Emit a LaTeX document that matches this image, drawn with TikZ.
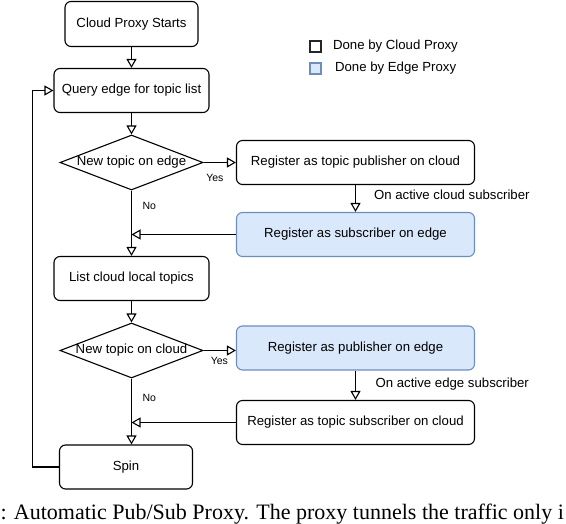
\documentclass[tikz,border=0pt]{standalone}
\usepackage{fontspec}
\setmainfont{Liberation Sans}
\newfontfamily\capfont{Liberation Serif}
\usepackage{xcolor}
\usepackage{tikz}
\usetikzlibrary{arrows.meta,positioning,shapes.geometric}
\definecolor{edgefill}{HTML}{DAE8FC}
\definecolor{edgeline}{HTML}{6C8EBF}
\tikzset{
  proc/.style={draw=black,fill=white,rounded corners=6pt,align=center,
               inner sep=2pt,font=\fontsize{13.2}{15}\selectfont,
               minimum width=155pt,minimum height=44pt},
  regc/.style={proc,minimum width=238pt},
  rege/.style={regc,draw=edgeline,fill=edgefill},
  dec/.style={diamond,draw=black,fill=white,inner sep=0pt,
              font=\fontsize{13.2}{15}\selectfont,
              minimum width=143pt,minimum height=55pt},
  lbl/.style={font=\fontsize{13.2}{15}\selectfont,inner sep=0pt},
  sm/.style={font=\fontsize{10.5}{12}\selectfont,inner sep=0pt},
  legc/.style={draw=black!85,fill=white,minimum size=11pt,inner sep=0pt},
  lege/.style={legc,draw=edgeline,fill=edgefill},
  capt/.style={font=\capfont\fontsize{22}{26}\selectfont,inner sep=0pt},
}
\begin{document}
\begin{tikzpicture}[x=1pt,y=-1pt,>={Triangle[length=9pt,width=10pt,fill=white]},line width=1.1pt]
  \useasboundingbox (0,0) rectangle (566,524);

  \node[proc,minimum width=133pt,minimum height=45pt] (start) at (131.5,24) {Cloud Proxy Starts};
  \node[proc] (query) at (131.5,90.5)  {Query edge for topic list};
  \node[dec]  (newe)  at (131.5,162.5) {\makebox[0pt]{New topic on edge}};
  \node[regc] (pubc)  at (355.5,162.5) {Register as topic publisher on cloud};
  \node[rege] (sube)  at (355.5,234.5) {Register as subscriber on edge};
  \node[proc] (list)  at (131.5,278.5) {List cloud local topics};
  \node[dec]  (newc)  at (131.5,350.5) {\makebox[0pt]{New topic on cloud}};
  \node[rege] (pube)  at (355.5,348)   {Register as publisher on edge};
  \node[regc] (subc)  at (355.5,422.5) {Register as topic subscriber on cloud};
  \node[proc,minimum width=133pt] (spin) at (126,467) {Spin};

  \node[legc] (kc) at (315.5,46.5) {};
  \node[lbl,right=11pt of kc] (kct) {Done by Cloud Proxy};
  \node[lege] (ke) at (315.5,68.5) {};
  \node[lbl,right=13pt of ke] (ket) {Done by Edge Proxy};

  \draw[->] (start) -- (query);
  \draw[->] (query) -- (newe);
  \draw[->] (newe) -- node[sm,pos=0.35,below=11pt] (yes1) {Yes} (pubc);
  \draw[->] (newe) -- node[sm,pos=0.24,right=10.5pt] (no1) {No} (list);
  \draw[->] (pubc) -- node[lbl,pos=0.35,right=18pt] (act1) {On active cloud subscriber} (sube);
  \draw[->] (sube) -- (sube -| list);
  \draw[->] (list) -- (newc);
  \draw[->] (newc.east) -- node[sm,pos=0.49,below=6pt] (yes2) {Yes} (newc.east -| pube.west);
  \draw[->] (pube) -- node[lbl,pos=0.45,right=19.5pt] (act2) {On active edge subscriber} (subc);
  \draw[->] (newc.south) -- node[sm,pos=0.3,right=10.5pt] (no2) {No} (newc.south |- spin.north);
  \draw[->] (subc) -- (subc -| list);

  % back to the query, along the left margin
  \coordinate (back) at (32.5,90.5);
  \draw[->] (spin.west) -| (back) -- (query.west);

  \node[capt,anchor=base west] (cap) at (0,519)
    {: Automatic Pub/Sub Proxy. The proxy tunnels the traffic only i};
\end{tikzpicture}
\end{document}
